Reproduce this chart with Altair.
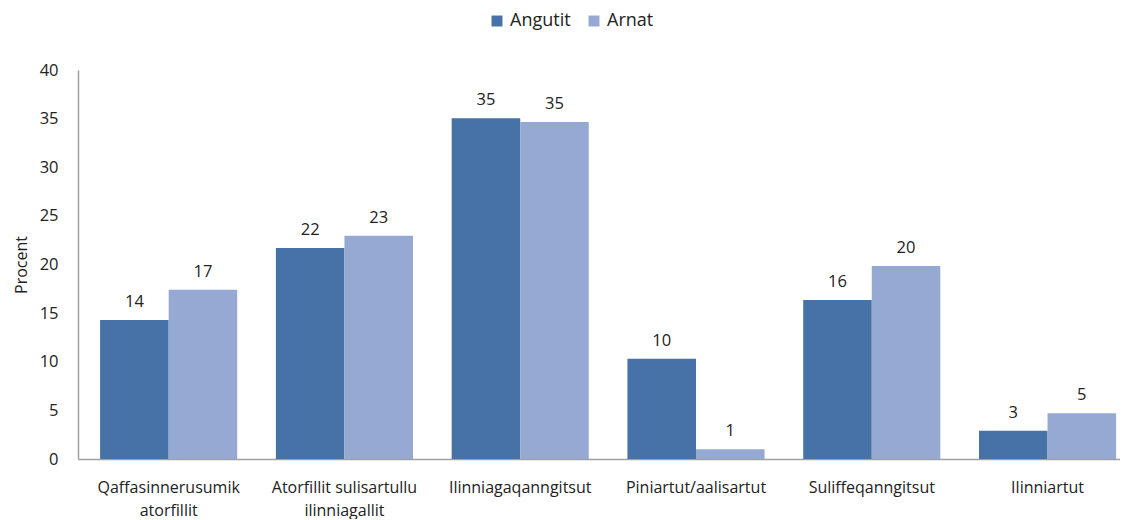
import altair as alt
import pandas as pd

categories = [
    "Qaffasinnerusumik\natorfillit",
    "Atorfillit sulisartullu\nilinniagallit",
    "Ilinniagaqanngitsut",
    "Piniartut/aalisartut",
    "Suliffeqanngitsut",
    "Ilinniartut",
]
series = ["Angutit", "Arnat"]
angutit = [14.3, 21.7, 35.05, 10.3, 16.35, 2.9]
arnat = [17.4, 22.95, 34.65, 1.0, 19.85, 4.7]

rows = []
for c, a, b in zip(categories, angutit, arnat):
    rows.append({"cat": c, "sex": series[0], "val": a})
    rows.append({"cat": c, "sex": series[1], "val": b})
df = pd.DataFrame(rows)

FONT = "Open Sans"
TXT = "#222222"

x = alt.X(
    "cat:N",
    sort=categories,
    title=None,
    scale=alt.Scale(paddingInner=0.22, paddingOuter=0.074, align=0.85),
    axis=alt.Axis(
        labelExpr="split(datum.label, '\\n')",
        labelAngle=0,
        labelFontSize=16,
        labelFont=FONT,
        labelColor=TXT,
        labelPadding=20,
        labelLineHeight=23,
        ticks=False,
        domainColor="#A0A0A0",
        domainWidth=1.5,
        labelBaseline="top",
    ),
)
xo = alt.XOffset("sex:N", sort=series, scale=alt.Scale(paddingInner=0))

base = alt.Chart(df)

bars = base.mark_bar().encode(
    x=x,
    xOffset=xo,
    y=alt.Y(
        "val:Q",
        title="Procent",
        scale=alt.Scale(domain=[0, 40]),
        axis=alt.Axis(
            values=[0, 5, 10, 15, 20, 25, 30, 35, 40],
            grid=False,
            ticks=False,
            labelFontSize=16.5,
            labelFont=FONT,
            labelColor=TXT,
            labelPadding=20,
            titleFontSize=16,
            titleFont=FONT,
            titleFontWeight="normal",
            titleColor=TXT,
            titlePadding=10,
            domainColor="#A0A0A0",
            domainWidth=1.5,
        ),
    ),
    color=alt.Color(
        "sex:N",
        sort=series,
        scale=alt.Scale(domain=series, range=["#4672A7", "#95A9D2"]),
        legend=alt.Legend(
            title=None,
            orient="none",
            direction="horizontal",
            legendX=410,
            legendY=-58,
            symbolType="square",
            symbolSize=120,
            labelFontSize=18,
            labelFont=FONT,
            labelColor=TXT,
            columnPadding=14,
            symbolStrokeWidth=0,
        ),
    ),
)

labels = base.mark_text(
    baseline="bottom", dy=-10, fontSize=16.5, font=FONT, color=TXT
).encode(
    x=x,
    xOffset=xo,
    y="val:Q",
    text=alt.Text("val:Q", format=".0f"),
)

chart = (
    alt.layer(bars, labels)
    .properties(
        width=1042,
        height=389,
        autosize=alt.AutoSizeParams(type="none"),
        padding={"left": 70, "top": 62, "right": 0, "bottom": 60},
    )
    .configure_view(stroke=None)
)

chart.save("out.html", embed_options={"renderer": "svg", "actions": False})
